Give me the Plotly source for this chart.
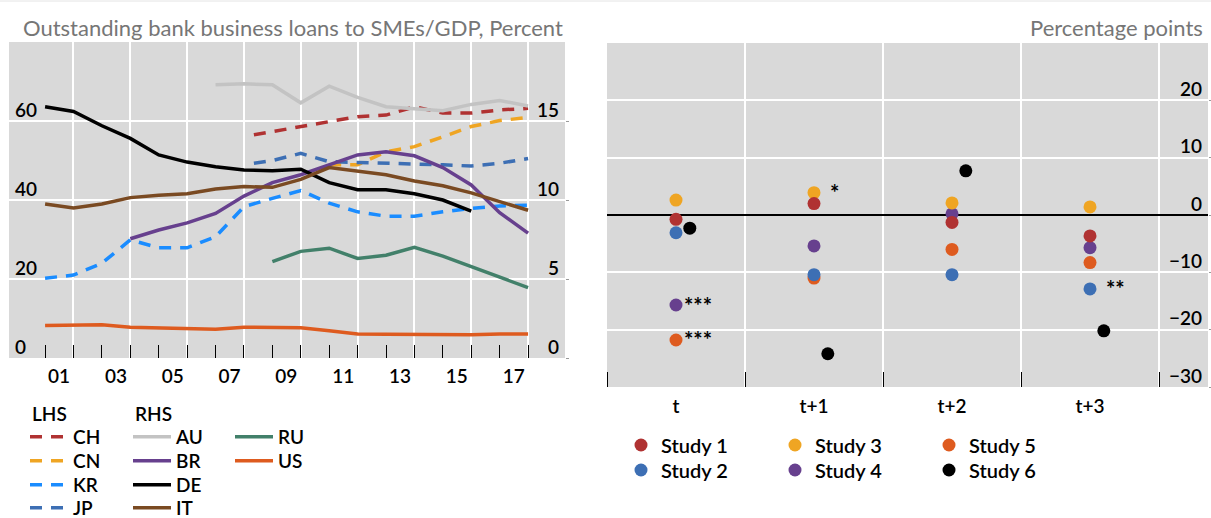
import plotly.graph_objects as go

# ---------------- data: left panel (annual, year-end values) ----------------
years = list(range(2000, 2018))
years_ch_jp = [2007.35] + list(range(2008, 2018))
years_cn = list(range(2010, 2018))

# LHS (percent of GDP)
CH = [56.5, 57.3, 58.6, 59.8, 61.1, 61.5, 63.6, 62.0, 62.0, 62.8, 63.2]
CN = [48.9, 48.9, 52.2, 53.5, 56.0, 58.6, 60.1, 60.9]
KR = [20.2, 21.0, 24.0, 29.9, 27.9, 27.9, 30.7, 38.3, 40.4, 42.4, 39.2, 37.0,
      35.9, 35.9, 37.0, 37.9, 38.5, 38.7]
JP = [49.3, 50.0, 51.8, 49.7, 49.5, 49.3, 49.3, 48.9, 48.6, 49.3, 50.5]

# RHS (percent of GDP)
AU = [None] * 6 + [17.3, 17.35, 17.3, 16.15, 17.2, 16.5, 15.9, 15.75, 15.65,
                   16.05, 16.3, 15.95]
BR = [None] * 3 + [7.55, 8.1, 8.55, 9.15, 10.25, 11.1, 11.6, 12.25, 12.85,
                   13.05, 12.8, 12.05, 10.95, 9.2, 7.9]
DE = [15.9, 15.6, 14.7, 13.9, 12.85, 12.4, 12.1, 11.9, 11.85, 11.95, 11.1,
      10.65, 10.65, 10.4, 10.0, 9.3, None, None]
IT = [9.75, 9.5, 9.75, 10.15, 10.3, 10.4, 10.7, 10.85, 10.8, 11.3, 12.05,
      11.85, 11.6, 11.2, 10.9, 10.45, 9.9, 9.35]
RU = [None] * 8 + [6.1, 6.75, 6.95, 6.3, 6.5, 7.0, 6.45, 5.8, 5.1, 4.45]
US = [2.05, 2.1, 2.1, 1.95, 1.9, 1.87, 1.82, 1.95, 1.95, 1.92, 1.72, 1.52,
      1.5, 1.48, 1.47, 1.47, 1.52, 1.52]

year_labels = ["01", "03", "05", "07", "09", "11", "13", "15", "17"]
label_years = [2000, 2002, 2004, 2006, 2008, 2010, 2012, 2014, 2016]

# ---------------- data: right panel ----------------
horizons = ["t", "t+1", "t+2", "t+3"]
study1 = [-0.75, 2.0, -1.3, -3.65]
study2 = [-3.1, -10.4, -10.4, -12.9]
study3 = [2.6, 3.9, 2.1, 1.4]
study4 = [-15.7, -5.4, 0.2, -5.7]
study5 = [-21.8, -11.0, -6.0, -8.3]
study6 = [-2.3, -24.2, 7.7, -20.2]
significance = [("Study 4", 0, "***"), ("Study 5", 0, "***"),
                ("Study 3", 1, "*"), ("Study 2", 3, "**")]

# ---------------- styling ----------------
FONT = "Lato"
W, H = 1211, 518
BG = "#d9d9d9"
LW = 3.5
DASH = "12px,9px"
YEAR_END = 1  # annual values plotted at year end
TXT_W = 600

colors = {
    "CH": "#b03232", "CN": "#efa523", "KR": "#1a8cff", "JP": "#3d6fb4",
    "AU": "#c3c3c3", "BR": "#67408e", "DE": "#000000", "IT": "#7a4a22",
    "RU": "#42806a", "US": "#de5b1f",
}
study_colors = ["#b03232", "#3d6fb4", "#efa523", "#67408e", "#de5b1f", "#000000"]

# legend placement (pixel positions of each entry: symbol start / row centre)
left_cols = [30, 133, 235]
left_rows = [437, 461, 485, 508]
left_slots = {"CH": (0, 0), "CN": (0, 1), "KR": (0, 2), "JP": (0, 3),
              "AU": (1, 0), "BR": (1, 1), "DE": (1, 2), "IT": (1, 3),
              "RU": (2, 0), "US": (2, 1)}
right_cols = [641, 795, 949]
right_rows = [445, 470]


def px_x(p):
    return p / W


def px_y(p):
    return 1 - p / H


def clean(xv, yv):
    pts = [(a, b) for a, b in zip(xv, yv) if b is not None]
    return [a + YEAR_END for a, _ in pts], [b for _, b in pts]


tickfont = dict(family=FONT, size=19, color="black", weight=TXT_W)
legfont = dict(family=FONT, size=19, color="black", weight=TXT_W)
legfont_r = dict(family=FONT, size=20, color="black", weight=TXT_W)

fig = go.Figure()
legends = {}
n_leg = [0]


def new_legend(x, y, font, itemwidth):
    n_leg[0] += 1
    key = "legend" if n_leg[0] == 1 else "legend%d" % n_leg[0]
    legends[key] = dict(x=px_x(x), y=px_y(y), xanchor="left",
                        yanchor="middle", bgcolor="rgba(0,0,0,0)", font=font,
                        itemwidth=itemwidth, borderwidth=0,
                        itemclick=False, itemdoubleclick=False)
    return key


# RHS series first (drawn under the dashed LHS series)
rhs = [("AU", AU), ("BR", BR), ("DE", DE), ("IT", IT), ("RU", RU), ("US", US)]
lhs = [("CH", years_ch_jp, CH), ("CN", years_cn, CN), ("KR", years, KR),
       ("JP", years_ch_jp, JP)]

leg_of = {}
for name in ["CH", "CN", "KR", "JP", "AU", "BR", "DE", "IT", "RU", "US"]:
    c, r = left_slots[name]
    leg_of[name] = new_legend(left_cols[c] - 5, left_rows[r], legfont, 38)

for name, vals in rhs:
    xv, yv = clean(years, vals)
    fig.add_trace(go.Scatter(
        x=xv, y=yv, mode="lines", name=name,
        line=dict(color=colors[name], width=LW),
        xaxis="x", yaxis="y2", legend=leg_of[name], hoverinfo="skip"))

for name, yrs, vals in lhs:
    xv, yv = clean(yrs, vals)
    fig.add_trace(go.Scatter(
        x=xv, y=yv, mode="lines", name=name,
        line=dict(color=colors[name], width=LW, dash=DASH),
        xaxis="x", yaxis="y", legend=leg_of[name], hoverinfo="skip"))

studies = [study1, study2, study3, study4, study5, study6]
study_names = ["Study 1", "Study 2", "Study 3", "Study 4", "Study 5", "Study 6"]
study_leg = []
for i in range(6):
    study_leg.append(new_legend(right_cols[i // 2] - 20, right_rows[i % 2],
                                legfont_r, 30))
offsets = [0, 0, 0, 0, 0, 0.1]
for i in reversed(range(6)):
    fig.add_trace(go.Scatter(
        x=[j + offsets[i] for j in range(len(horizons))], y=studies[i],
        mode="markers", name=study_names[i],
        marker=dict(color=study_colors[i], size=13),
        xaxis="x2", yaxis="y3", legend=study_leg[i], hoverinfo="skip"))

lookup = dict(zip(study_names, studies))
annotations = []
for name, idx, txt in significance:
    annotations.append(dict(
        x=idx, y=lookup[name][idx], xref="x2", yref="y3", text=txt,
        showarrow=False, xanchor="left", yanchor="middle",
        xshift=6 if idx == 0 else 14,
        font=dict(family=FONT, size=22, color="black", weight=700)))

annotations.append(dict(
    x=px_x(565), y=px_y(27), xref="paper", yref="paper",
    text="Outstanding bank business loans to SMEs/GDP, Percent",
    showarrow=False, xanchor="right", yanchor="middle",
    font=dict(family=FONT, size=22, color="#767676")))
annotations.append(dict(
    x=px_x(1205), y=px_y(27), xref="paper", yref="paper",
    text="Percentage points", showarrow=False, xanchor="right",
    yanchor="middle", font=dict(family=FONT, size=22, color="#767676")))
for txt, xp in (("LHS", 30), ("RHS", 133)):
    annotations.append(dict(
        x=px_x(xp), y=px_y(413), xref="paper", yref="paper", text=txt,
        showarrow=False, xanchor="left", yanchor="middle", font=legfont))

ylab = dict(ticklabelposition="inside", ticklabelshift=-11,
            ticklabelstandoff=3, ticklabeloverflow="allow", tickfont=tickfont)

fig.update_layout(
    width=W, height=H, autosize=False,
    margin=dict(l=0, r=0, t=0, b=0, pad=0, autoexpand=False),
    paper_bgcolor="white", plot_bgcolor=BG,
    font=dict(family=FONT, color="black"),
    showlegend=True,
    xaxis=dict(
        domain=[px_x(9), px_x(565)], range=[1999.73, 2019.30], anchor="y",
        tickmode="array", tickvals=[y + YEAR_END for y in label_years],
        ticktext=year_labels, ticks="inside", ticklen=13, tickwidth=1.3,
        tickcolor="black", showgrid=False, zeroline=False, showline=False,
        ticklabelshift=14, ticklabelstandoff=5, tickfont=tickfont,
        minor=dict(tickmode="array",
                   tickvals=[y + YEAR_END + 1 for y in label_years],
                   ticks="inside", ticklen=13, tickwidth=1.3,
                   tickcolor="black", showgrid=True, gridcolor="white",
                   gridwidth=1.5)),
    yaxis=dict(
        domain=[px_y(358), px_y(42)], range=[0, 80], anchor="x",
        tickmode="array", tickvals=[0, 20, 40, 60], showgrid=True,
        gridcolor="white", gridwidth=1.5, zeroline=False, showline=False,
        ticks="", **ylab),
    yaxis2=dict(
        overlaying="y", side="right", range=[0, 20], anchor="x",
        tickmode="array", tickvals=[0, 5, 10, 15], showgrid=False,
        zeroline=False, showline=False, ticks="outside", ticklen=3,
        tickcolor="#9a9a9a", **ylab),
    xaxis2=dict(
        domain=[px_x(607), px_x(1208)], range=[-0.5, 3.855], anchor="y3",
        tickmode="array", tickvals=list(range(len(horizons))),
        ticktext=horizons, ticks="", showgrid=False, zeroline=False,
        showline=False, ticklabelstandoff=6, tickfont=tickfont,
        minor=dict(tickmode="array", tickvals=[-0.5, 0.5, 1.5, 2.5, 3.5],
                   ticks="inside", ticklen=15, tickwidth=1.3,
                   tickcolor="black", showgrid=True, gridcolor="white",
                   gridwidth=1.5)),
    yaxis3=dict(
        domain=[px_y(387), px_y(43)], range=[-30, 30], anchor="x2",
        side="right", tickmode="array", tickvals=[-30, -20, -10, 0, 10, 20],
        showgrid=True, gridcolor="white", gridwidth=1.5, zeroline=True,
        zerolinecolor="black", zerolinewidth=2, showline=False,
        ticks="outside", ticklen=3, tickcolor="#9a9a9a", **ylab),
    annotations=annotations,
    shapes=[dict(type="line", xref="paper", yref="paper", x0=0, x1=1,
                 y0=px_y(1), y1=px_y(1), line=dict(color="#e4e4e4", width=1))],
)
fig.update_layout(**legends)

fig.write_html("out.html", config={"displayModeBar": False},
               post_script="document.body.style.margin='0px';"
                           "document.body.style.overflow='hidden';")
